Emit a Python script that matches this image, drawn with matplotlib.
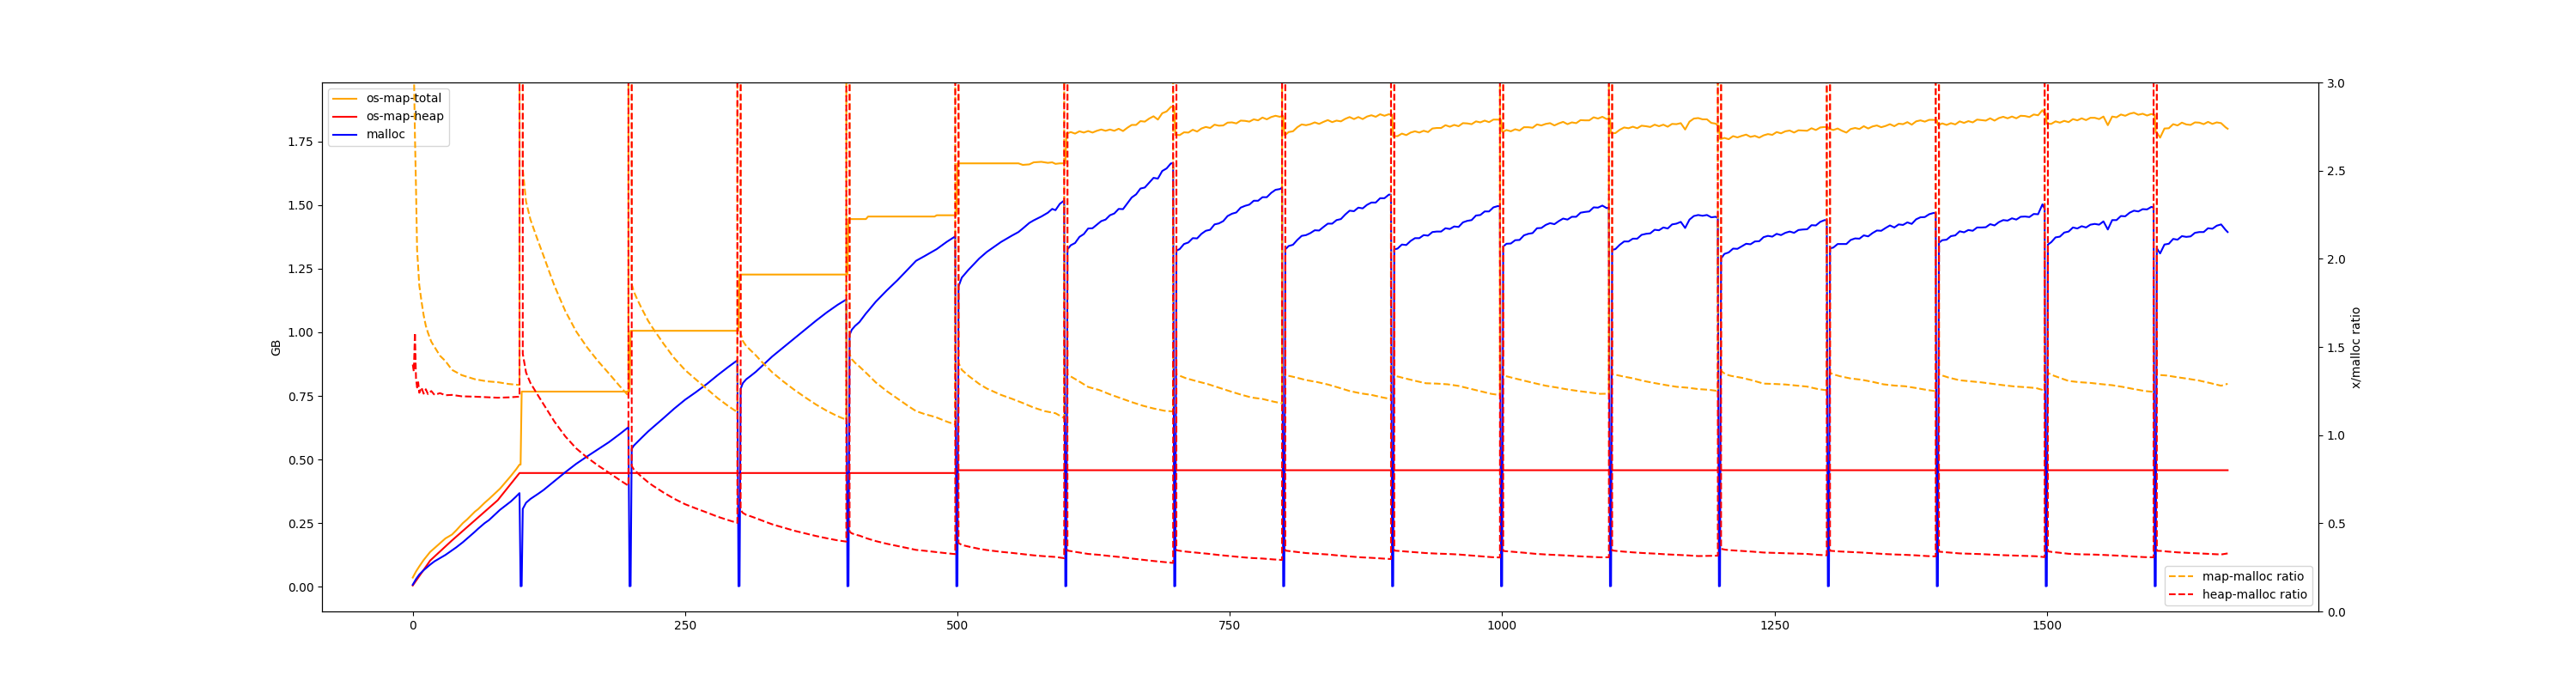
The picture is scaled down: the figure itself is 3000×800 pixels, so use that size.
import matplotlib
matplotlib.use("Agg")
import matplotlib.pyplot as plt

# ---------------- data ----------------
# restart points (malloc collapses to ~0, ratios shoot off the top)
restarts = [100, 200, 300, 400, 500, 600, 700, 800, 900, 1000, 1100, 1200, 1300, 1400, 1500, 1600]
restart_malloc = [0.002, 0.003]
restart_ratio = [500.0, 500.0]

# ---- GB series, first six phases (0-600) ----
t_0 = [0, 3, 6, 10, 16, 20, 26, 30, 36, 40, 46, 50, 57, 60, 66, 70, 77, 80, 86, 90, 95, 98]
total_0 = [0.036, 0.06, 0.08, 0.105, 0.137, 0.152, 0.175, 0.19, 0.205, 0.222, 0.25, 0.265, 0.295, 0.305, 0.33, 0.345, 0.373, 0.385, 0.415, 0.435, 0.462, 0.48]
malloc_0 = [0.008, 0.03, 0.048, 0.065, 0.087, 0.1, 0.115, 0.125, 0.143, 0.155, 0.175, 0.19, 0.216, 0.228, 0.25, 0.262, 0.29, 0.302, 0.322, 0.335, 0.355, 0.368]

t_100 = [101, 104, 108, 115, 120, 130, 140, 150, 160, 170, 180, 190, 198]
total_100 = [0.767] * 13
malloc_100 = [0.306, 0.33, 0.345, 0.365, 0.38, 0.415, 0.45, 0.483, 0.512, 0.54, 0.568, 0.6, 0.627]

t_200 = [201, 203, 206, 210, 216, 220, 230, 240, 250, 260, 270, 280, 290, 298]
total_200 = [1.006] * 14
malloc_200 = [0.542, 0.555, 0.568, 0.585, 0.61, 0.625, 0.662, 0.7, 0.735, 0.765, 0.797, 0.832, 0.865, 0.89]

t_300 = [301, 303, 306, 310, 315, 320, 330, 340, 350, 360, 370, 380, 390, 398]
total_300 = [1.227] * 14
malloc_300 = [0.778, 0.8, 0.815, 0.828, 0.845, 0.865, 0.905, 0.94, 0.975, 1.01, 1.045, 1.078, 1.108, 1.129]

t_400 = [401, 403, 406, 410, 416, 418, 425, 435, 445, 455, 462, 470, 479, 481, 490, 498]
total_400 = [1.445, 1.445, 1.445, 1.445, 1.445, 1.455, 1.455, 1.455, 1.455, 1.455, 1.455, 1.455, 1.455, 1.46, 1.46, 1.46]
malloc_400 = [0.99, 1.01, 1.025, 1.04, 1.074, 1.084, 1.12, 1.164, 1.205, 1.25, 1.281, 1.3, 1.322, 1.327, 1.355, 1.377]

t_500 = [501, 504, 510, 520, 527, 540, 550, 556, 560, 566, 570, 577, 583, 587, 590, 594, 598]
total_500 = [1.664, 1.664, 1.664, 1.664, 1.664, 1.664, 1.664, 1.664, 1.658, 1.66, 1.668, 1.67, 1.666, 1.668, 1.662, 1.664, 1.664]
malloc_500 = [1.18, 1.215, 1.245, 1.29, 1.316, 1.355, 1.38, 1.394, 1.408, 1.43, 1.44, 1.455, 1.47, 1.485, 1.48, 1.505, 1.518]

# ---- GB series, noisy phases (600-1666), sampled at these offsets in each phase ----
noisy_offsets = [1, 4, 8, 12, 16, 20, 24, 28, 32, 36, 40, 44, 48, 52, 56, 60, 64, 68, 72, 76, 80, 84, 88, 92, 96, 98]
last_offsets = [1, 4, 8, 12, 16, 20, 24, 28, 32, 36, 40, 44, 48, 52, 56, 60, 64, 66]

total_600 = [1.782, 1.787, 1.781, 1.790, 1.785, 1.791, 1.785, 1.792, 1.797, 1.792, 1.797, 1.792, 1.800, 1.791, 1.804, 1.815, 1.815, 1.830, 1.828, 1.840, 1.849, 1.836, 1.861, 1.868, 1.886, 1.887]
malloc_600 = [1.326, 1.342, 1.351, 1.375, 1.386, 1.408, 1.409, 1.423, 1.437, 1.443, 1.460, 1.467, 1.485, 1.484, 1.507, 1.530, 1.542, 1.565, 1.569, 1.588, 1.607, 1.604, 1.634, 1.644, 1.664, 1.664]
total_700 = [1.776, 1.775, 1.786, 1.785, 1.796, 1.789, 1.801, 1.807, 1.803, 1.816, 1.812, 1.813, 1.824, 1.825, 1.821, 1.832, 1.831, 1.828, 1.837, 1.833, 1.844, 1.837, 1.846, 1.851, 1.847, 1.850]
malloc_700 = [1.321, 1.327, 1.347, 1.353, 1.370, 1.369, 1.387, 1.399, 1.403, 1.424, 1.428, 1.437, 1.457, 1.466, 1.471, 1.490, 1.497, 1.502, 1.517, 1.517, 1.531, 1.531, 1.548, 1.560, 1.563, 1.568]
total_800 = [1.776, 1.787, 1.790, 1.806, 1.817, 1.814, 1.818, 1.825, 1.819, 1.827, 1.834, 1.826, 1.832, 1.829, 1.839, 1.846, 1.838, 1.846, 1.838, 1.848, 1.853, 1.847, 1.857, 1.851, 1.857, 1.855]
malloc_800 = [1.326, 1.339, 1.344, 1.363, 1.379, 1.382, 1.390, 1.401, 1.400, 1.414, 1.427, 1.427, 1.441, 1.445, 1.463, 1.478, 1.476, 1.490, 1.487, 1.501, 1.510, 1.510, 1.527, 1.527, 1.541, 1.541]
total_900 = [1.771, 1.771, 1.781, 1.775, 1.785, 1.790, 1.785, 1.792, 1.787, 1.801, 1.803, 1.803, 1.814, 1.808, 1.815, 1.810, 1.822, 1.821, 1.818, 1.829, 1.825, 1.832, 1.826, 1.836, 1.836, 1.835]
malloc_900 = [1.326, 1.329, 1.345, 1.343, 1.359, 1.370, 1.370, 1.382, 1.380, 1.394, 1.396, 1.396, 1.409, 1.406, 1.416, 1.414, 1.432, 1.438, 1.441, 1.459, 1.461, 1.475, 1.475, 1.491, 1.496, 1.496]
total_1000 = [1.788, 1.795, 1.790, 1.798, 1.793, 1.806, 1.806, 1.804, 1.817, 1.813, 1.819, 1.822, 1.813, 1.821, 1.827, 1.818, 1.825, 1.822, 1.834, 1.833, 1.833, 1.845, 1.840, 1.847, 1.838, 1.840]
malloc_1000 = [1.337, 1.348, 1.349, 1.362, 1.363, 1.381, 1.387, 1.390, 1.409, 1.410, 1.422, 1.429, 1.425, 1.437, 1.447, 1.443, 1.454, 1.454, 1.470, 1.473, 1.475, 1.491, 1.490, 1.498, 1.488, 1.490]
total_1100 = [1.782, 1.783, 1.796, 1.805, 1.802, 1.808, 1.802, 1.812, 1.810, 1.807, 1.816, 1.810, 1.816, 1.808, 1.819, 1.818, 1.822, 1.797, 1.828, 1.840, 1.842, 1.837, 1.837, 1.823, 1.820, 1.812]
malloc_1100 = [1.324, 1.327, 1.344, 1.357, 1.357, 1.368, 1.368, 1.383, 1.387, 1.389, 1.403, 1.401, 1.412, 1.408, 1.424, 1.427, 1.434, 1.410, 1.443, 1.457, 1.461, 1.458, 1.461, 1.452, 1.454, 1.450]
total_1200 = [1.760, 1.764, 1.759, 1.771, 1.766, 1.772, 1.777, 1.768, 1.772, 1.765, 1.774, 1.779, 1.776, 1.787, 1.782, 1.790, 1.793, 1.785, 1.794, 1.793, 1.792, 1.802, 1.795, 1.805, 1.807, 1.806]
malloc_1200 = [1.290, 1.308, 1.314, 1.329, 1.328, 1.338, 1.348, 1.346, 1.357, 1.358, 1.374, 1.379, 1.376, 1.387, 1.382, 1.391, 1.396, 1.391, 1.402, 1.404, 1.405, 1.421, 1.420, 1.434, 1.441, 1.440]
total_1300 = [1.799, 1.795, 1.801, 1.792, 1.785, 1.799, 1.803, 1.799, 1.810, 1.801, 1.809, 1.813, 1.806, 1.811, 1.818, 1.810, 1.820, 1.818, 1.826, 1.816, 1.829, 1.833, 1.828, 1.835, 1.835, 1.834]
malloc_1300 = [1.330, 1.333, 1.347, 1.347, 1.347, 1.363, 1.369, 1.368, 1.381, 1.377, 1.390, 1.400, 1.399, 1.410, 1.420, 1.412, 1.424, 1.422, 1.432, 1.426, 1.444, 1.452, 1.453, 1.464, 1.469, 1.468]
total_1400 = [1.815, 1.821, 1.815, 1.822, 1.817, 1.829, 1.823, 1.830, 1.825, 1.836, 1.834, 1.832, 1.841, 1.832, 1.842, 1.847, 1.841, 1.848, 1.841, 1.851, 1.850, 1.846, 1.856, 1.853, 1.873, 1.860]
malloc_1400 = [1.352, 1.362, 1.364, 1.378, 1.381, 1.397, 1.393, 1.402, 1.399, 1.412, 1.412, 1.413, 1.425, 1.420, 1.433, 1.441, 1.439, 1.448, 1.443, 1.454, 1.455, 1.453, 1.465, 1.464, 1.503, 1.485]
total_1500 = [1.820, 1.819, 1.829, 1.824, 1.831, 1.826, 1.838, 1.833, 1.841, 1.834, 1.843, 1.843, 1.838, 1.848, 1.814, 1.848, 1.845, 1.856, 1.851, 1.859, 1.863, 1.855, 1.859, 1.852, 1.858, 1.855]
malloc_1500 = [1.345, 1.354, 1.373, 1.376, 1.392, 1.396, 1.412, 1.408, 1.417, 1.412, 1.423, 1.426, 1.423, 1.436, 1.404, 1.441, 1.441, 1.457, 1.456, 1.470, 1.478, 1.475, 1.484, 1.483, 1.493, 1.490]
total_1600 = [1.785, 1.765, 1.801, 1.802, 1.818, 1.813, 1.824, 1.817, 1.815, 1.825, 1.824, 1.818, 1.827, 1.819, 1.825, 1.822, 1.806, 1.800]
malloc_1600 = [1.330, 1.310, 1.345, 1.348, 1.367, 1.364, 1.378, 1.375, 1.377, 1.391, 1.394, 1.394, 1.409, 1.407, 1.419, 1.424, 1.403, 1.394]

# ---- os-map-heap ----
t_heap = [0, 16, 36, 57, 78, 98, 100, 499, 500, 1666]
os_map_heap = [0.005, 0.103, 0.182, 0.261, 0.34, 0.447, 0.447, 0.447, 0.458, 0.458]

# ---- ratios (right axis) ----
rt_0 = [0, 1, 2, 3, 4, 5, 6, 8, 10, 12, 14, 17, 20, 25, 30, 36, 45, 57, 68, 78, 88, 98]
map_0 = [4.5, 3.1, 2.7, 2.4, 2.05, 1.95, 1.85, 1.76, 1.68, 1.62, 1.58, 1.53, 1.50, 1.45, 1.42, 1.37, 1.34, 1.317, 1.305, 1.30, 1.29, 1.284]
heapr_0 = [1.40, 1.36, 1.58, 1.32, 1.27, 1.30, 1.24, 1.27, 1.235, 1.26, 1.232, 1.25, 1.228, 1.238, 1.226, 1.228, 1.22, 1.218, 1.215, 1.212, 1.214, 1.218]
rt_100 = [101, 104, 108, 115, 120, 125, 130, 140, 150, 160, 170, 180, 190, 198]
map_100 = [2.507, 2.324, 2.223, 2.101, 2.018, 1.932, 1.848, 1.704, 1.588, 1.498, 1.42, 1.35, 1.278, 1.223]
heapr_100 = [1.461, 1.355, 1.296, 1.225, 1.176, 1.126, 1.077, 0.993, 0.925, 0.873, 0.828, 0.787, 0.745, 0.713]
rt_200 = [201, 203, 206, 210, 216, 220, 230, 240, 250, 260, 270, 280, 290, 298]
map_200 = [1.856, 1.813, 1.771, 1.72, 1.649, 1.61, 1.52, 1.437, 1.369, 1.315, 1.262, 1.209, 1.163, 1.13]
heapr_200 = [0.825, 0.805, 0.787, 0.764, 0.733, 0.715, 0.675, 0.639, 0.608, 0.584, 0.561, 0.537, 0.517, 0.502]
rt_300 = [301, 303, 306, 310, 315, 320, 330, 340, 350, 360, 370, 380, 390, 398]
map_300 = [1.577, 1.534, 1.506, 1.482, 1.452, 1.418, 1.356, 1.305, 1.258, 1.215, 1.174, 1.138, 1.107, 1.087]
heapr_300 = [0.575, 0.559, 0.548, 0.54, 0.529, 0.517, 0.494, 0.476, 0.458, 0.443, 0.428, 0.415, 0.403, 0.396]
rt_400 = [401, 403, 406, 410, 417, 425, 435, 445, 455, 462, 470, 480, 490, 498]
map_400 = [1.46, 1.431, 1.41, 1.389, 1.348, 1.299, 1.25, 1.207, 1.164, 1.136, 1.119, 1.102, 1.077, 1.06]
heapr_400 = [0.452, 0.443, 0.436, 0.43, 0.414, 0.399, 0.384, 0.371, 0.358, 0.349, 0.344, 0.337, 0.33, 0.325]
rt_500 = [501, 504, 510, 520, 527, 540, 550, 560, 570, 580, 590, 598]
map_500 = [1.41, 1.37, 1.337, 1.29, 1.264, 1.228, 1.206, 1.182, 1.156, 1.136, 1.124, 1.096]
heapr_500 = [0.388, 0.377, 0.368, 0.355, 0.348, 0.338, 0.332, 0.325, 0.318, 0.313, 0.309, 0.302]

ratio_offsets = [1, 5, 10, 20, 30, 40, 50, 60, 70, 80, 90, 98]
last_ratio_offsets = [1, 5, 10, 20, 30, 40, 50, 60, 66]
map_600 = [1.344, 1.329, 1.311, 1.273, 1.256, 1.231, 1.209, 1.187, 1.167, 1.151, 1.138, 1.134]
heapr_600 = [0.345, 0.341, 0.336, 0.326, 0.321, 0.314, 0.308, 0.300, 0.293, 0.286, 0.280, 0.275]
map_700 = [1.344, 1.334, 1.322, 1.305, 1.289, 1.269, 1.249, 1.230, 1.213, 1.205, 1.190, 1.180]
heapr_700 = [0.347, 0.343, 0.339, 0.333, 0.327, 0.320, 0.314, 0.308, 0.303, 0.300, 0.295, 0.292]
map_800 = [1.339, 1.335, 1.328, 1.312, 1.301, 1.287, 1.269, 1.250, 1.237, 1.228, 1.214, 1.204]
heapr_800 = [0.345, 0.342, 0.338, 0.331, 0.327, 0.323, 0.317, 0.312, 0.307, 0.304, 0.300, 0.297]
map_900 = [1.336, 1.331, 1.323, 1.308, 1.294, 1.292, 1.288, 1.279, 1.264, 1.249, 1.234, 1.227]
heapr_900 = [0.345, 0.343, 0.341, 0.336, 0.331, 0.328, 0.326, 0.323, 0.318, 0.313, 0.308, 0.306]
map_1000 = [1.337, 1.332, 1.324, 1.309, 1.294, 1.280, 1.270, 1.259, 1.250, 1.242, 1.234, 1.235]
heapr_1000 = [0.343, 0.341, 0.338, 0.333, 0.327, 0.323, 0.320, 0.317, 0.313, 0.310, 0.307, 0.307]
map_1100 = [1.346, 1.341, 1.334, 1.322, 1.307, 1.295, 1.284, 1.274, 1.269, 1.261, 1.257, 1.250]
heapr_1100 = [0.346, 0.343, 0.340, 0.335, 0.331, 0.328, 0.324, 0.321, 0.318, 0.314, 0.315, 0.316]
map_1200 = [1.364, 1.345, 1.336, 1.325, 1.310, 1.292, 1.290, 1.287, 1.281, 1.275, 1.261, 1.254]
heapr_1200 = [0.355, 0.350, 0.347, 0.343, 0.339, 0.334, 0.332, 0.330, 0.328, 0.326, 0.321, 0.318]
map_1300 = [1.353, 1.343, 1.334, 1.321, 1.314, 1.302, 1.288, 1.281, 1.277, 1.267, 1.256, 1.249]
heapr_1300 = [0.344, 0.342, 0.340, 0.337, 0.334, 0.330, 0.326, 0.323, 0.321, 0.318, 0.314, 0.312]
map_1400 = [1.342, 1.336, 1.326, 1.311, 1.305, 1.299, 1.291, 1.283, 1.276, 1.272, 1.267, 1.253]
heapr_1400 = [0.339, 0.337, 0.334, 0.329, 0.327, 0.325, 0.322, 0.319, 0.317, 0.315, 0.313, 0.308]
map_1500 = [1.353, 1.340, 1.329, 1.307, 1.300, 1.296, 1.289, 1.283, 1.273, 1.261, 1.250, 1.245]
heapr_1500 = [0.341, 0.337, 0.334, 0.327, 0.324, 0.323, 0.321, 0.318, 0.315, 0.311, 0.308, 0.307]
map_1600 = [1.342, 1.340, 1.338, 1.328, 1.319, 1.309, 1.295, 1.280, 1.291]
heapr_1600 = [0.344, 0.343, 0.340, 0.335, 0.332, 0.329, 0.326, 0.323, 0.329]

# ---------------- assemble phases ----------------
gb_phases = [
    (t_0, total_0, malloc_0), (t_100, total_100, malloc_100), (t_200, total_200, malloc_200),
    (t_300, total_300, malloc_300), (t_400, total_400, malloc_400), (t_500, total_500, malloc_500),
]
for start, tot, mal in [(600, total_600, malloc_600), (700, total_700, malloc_700),
                        (800, total_800, malloc_800), (900, total_900, malloc_900),
                        (1000, total_1000, malloc_1000), (1100, total_1100, malloc_1100),
                        (1200, total_1200, malloc_1200), (1300, total_1300, malloc_1300),
                        (1400, total_1400, malloc_1400), (1500, total_1500, malloc_1500)]:
    gb_phases.append(([start + o for o in noisy_offsets], tot, mal))
gb_phases.append(([1600 + o for o in last_offsets], total_1600, malloc_1600))

ratio_phases = [
    (rt_0, map_0, heapr_0), (rt_100, map_100, heapr_100), (rt_200, map_200, heapr_200),
    (rt_300, map_300, heapr_300), (rt_400, map_400, heapr_400), (rt_500, map_500, heapr_500),
]
for start, mr, hr in [(600, map_600, heapr_600), (700, map_700, heapr_700), (800, map_800, heapr_800),
                      (900, map_900, heapr_900), (1000, map_1000, heapr_1000), (1100, map_1100, heapr_1100),
                      (1200, map_1200, heapr_1200), (1300, map_1300, heapr_1300),
                      (1400, map_1400, heapr_1400), (1500, map_1500, heapr_1500)]:
    ratio_phases.append(([start + o for o in ratio_offsets], mr, hr))
ratio_phases.append(([1600 + o for o in last_ratio_offsets], map_1600, heapr_1600))

t_gb, os_map_total, malloc_gb = [], [], []
for i, (t, tot, mal) in enumerate(gb_phases):
    assert len(t) == len(tot) == len(mal), i
    t_gb += t
    os_map_total += tot
    malloc_gb += mal
    if i < len(restarts):
        r = restarts[i]
        t_gb += [r - 1, r]
        os_map_total += [tot[-1], gb_phases[i + 1][1][0]]
        malloc_gb += restart_malloc

t_ratio, map_malloc_ratio, heap_malloc_ratio = [], [], []
for i, (t, mr, hr) in enumerate(ratio_phases):
    assert len(t) == len(mr) == len(hr), i
    t_ratio += t
    map_malloc_ratio += mr
    heap_malloc_ratio += hr
    if i < len(restarts):
        r = restarts[i]
        t_ratio += [r - 1, r]
        map_malloc_ratio += restart_ratio
        heap_malloc_ratio += restart_ratio

# ---------------- plot ----------------
fig, ax = plt.subplots(figsize=(30, 8), dpi=100)
ax.plot(t_gb, os_map_total, color='orange', label='os-map-total')
ax.plot(t_heap, os_map_heap, color='red', label='os-map-heap')
ax.plot(t_gb, malloc_gb, color='blue', label='malloc')
ax.set_ylabel('GB')
ax.set_ylim(-0.097, 1.982)
ax.legend(loc='upper left')

ax2 = ax.twinx()
ax2.plot(t_ratio, map_malloc_ratio, '--', color='orange', label='map-malloc ratio')
ax2.plot(t_ratio, heap_malloc_ratio, '--', color='red', label='heap-malloc ratio')
ax2.set_ylim(0, 3)
ax2.set_ylabel('x/malloc ratio')
ax2.legend(loc='lower right')

fig.savefig('out.png')
